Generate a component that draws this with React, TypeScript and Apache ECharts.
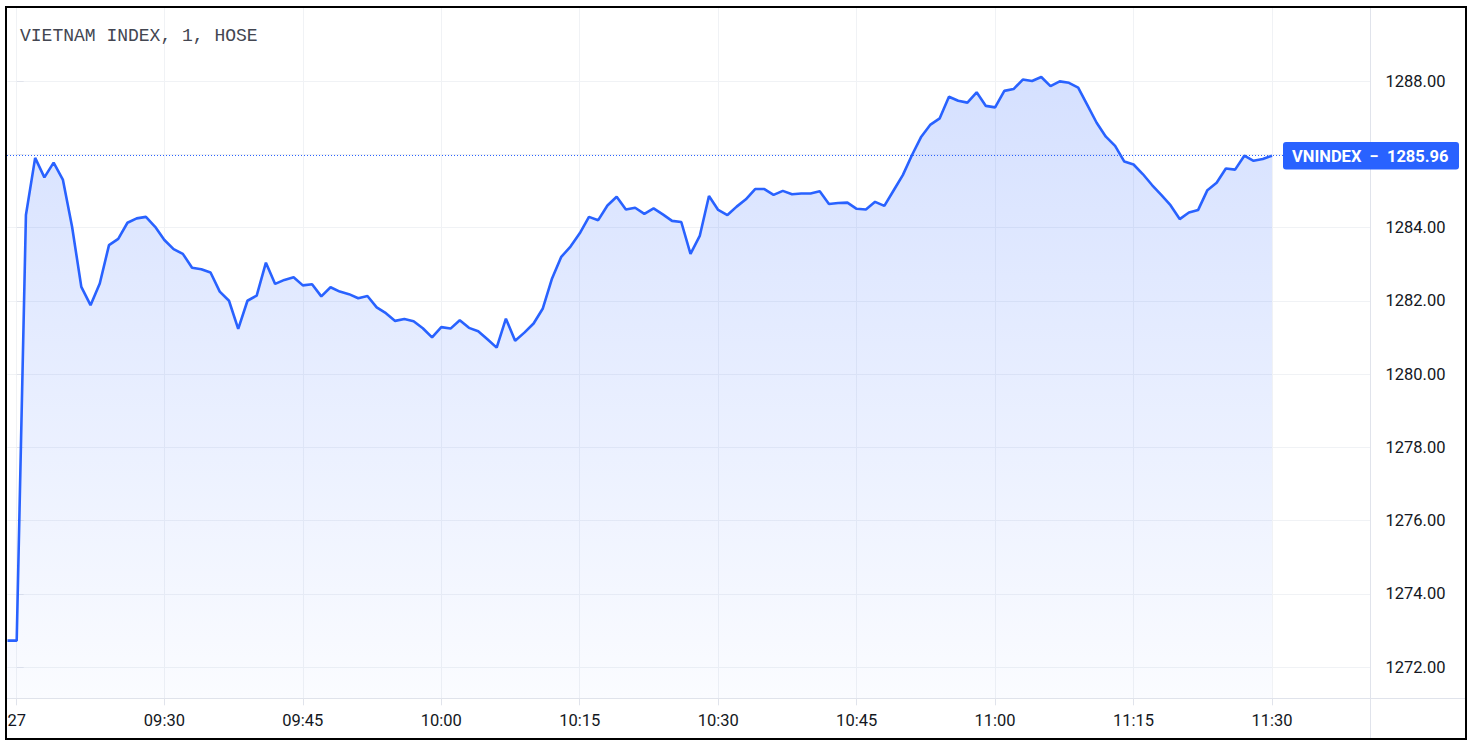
import React, { useEffect, useRef } from "react";
import * as echarts from "echarts";

const chartTitle = "VIETNAM INDEX, 1, HOSE";
const seriesName = "VNINDEX";
const dateLabel = "27";
const prevClose = 1272.72;
const firstBarValue = 1272.72;
const sessionStart = "09:15";

// one value per minute, 09:15 .. 11:30
const values: number[] = [
  1284.34, 1285.9, 1285.37, 1285.77, 1285.31, 1284.02, 1282.38, 1281.88, 1282.47, 1283.52,
  1283.69, 1284.13, 1284.25, 1284.29, 1284.02, 1283.66, 1283.41, 1283.28, 1282.9, 1282.86,
  1282.77, 1282.25, 1282.0, 1281.23, 1282.0, 1282.14, 1283.04, 1282.46, 1282.57, 1282.64,
  1282.42, 1282.45, 1282.12, 1282.37, 1282.25, 1282.18, 1282.07, 1282.13, 1281.82, 1281.66,
  1281.45, 1281.5, 1281.44, 1281.25, 1281.0, 1281.28, 1281.24, 1281.47, 1281.26, 1281.17,
  1280.95, 1280.72, 1281.51, 1280.91, 1281.13, 1281.38, 1281.79, 1282.61, 1283.2, 1283.48,
  1283.84, 1284.29, 1284.2, 1284.6, 1284.84, 1284.49, 1284.54, 1284.37, 1284.52, 1284.36,
  1284.18, 1284.15, 1283.28, 1283.77, 1284.86, 1284.48, 1284.34, 1284.57, 1284.77, 1285.05,
  1285.05, 1284.89, 1285.0, 1284.91, 1284.93, 1284.93, 1284.99, 1284.64, 1284.67, 1284.68,
  1284.51, 1284.49, 1284.7, 1284.59, 1285.01, 1285.43, 1285.98, 1286.48, 1286.81, 1286.98,
  1287.57, 1287.46, 1287.41, 1287.69, 1287.32, 1287.28, 1287.73, 1287.78, 1288.04, 1288.0,
  1288.11, 1287.86, 1287.99, 1287.95, 1287.82, 1287.34, 1286.86, 1286.48, 1286.23, 1285.8,
  1285.72, 1285.46, 1285.16, 1284.89, 1284.61, 1284.23, 1284.41, 1284.48, 1285.02, 1285.22,
  1285.61, 1285.58, 1285.96, 1285.82, 1285.87, 1285.96,
];

const xTickTimes = ["09:30", "09:45", "10:00", "10:15", "10:30", "10:45", "11:00", "11:15", "11:30"];
const yTicks = [1272, 1274, 1276, 1278, 1280, 1282, 1284, 1286, 1288];

const toMin = (t: string) => {
  const [h, m] = t.split(":").map(Number);
  return h * 60 + m;
};
const fmtTime = (m: number) =>
  `${String(Math.floor(m / 60)).padStart(2, "0")}:${String(m % 60).padStart(2, "0")}`;
const times = values.map((_, i) => fmtTime(toMin(sessionStart) + i));

export default function App() {
  const ref = useRef<HTMLDivElement>(null);
  useEffect(() => {
    if (!ref.current) return;
    const chart = echarts.init(ref.current, undefined, { renderer: "svg" });

    // bar index: -1 = previous close, 0 = first bar of the day (date label), 1.. = minutes
    const data: [number, number][] = [
      [-1, prevClose],
      [0, firstBarValue],
      ...values.map((v, i) => [i + 1, v] as [number, number]),
    ];
    const xTickPos = [0, ...xTickTimes.map((t) => times.indexOf(t) + 1)];
    const last = values[values.length - 1];
    // the price badge covers the scale label next to the last value
    const yLabelValues = yTicks.filter((v) => Math.abs(v - last) > 0.4);

    const font = "Roboto";
    const gridColor = "#f0f2f5";
    const axisColor = "#e0e3eb";
    const textColor = "#131722";

    chart.setOption({
      animation: false,
      backgroundColor: "#ffffff",
      title: {
        text: chartTitle,
        left: 20,
        top: 27,
        padding: 0,
        textStyle: {
          fontFamily: "Liberation Mono",
          fontSize: 18,
          fontWeight: "normal",
          color: "#434651",
        },
      },
      grid: { left: 7.47, right: 102.5, top: 7.75, bottom: 48.7, containLabel: false },
      xAxis: {
        type: "value",
        min: -1,
        max: 146.67,
        axisLine: { show: false },
        axisTick: {
          show: true,
          length: 7,
          customValues: xTickPos,
          lineStyle: { color: axisColor },
        },
        axisLabel: {
          customValues: xTickPos,
          formatter: (v: number) => (v === 0 ? dateLabel : times[v - 1]),
          color: textColor,
          fontFamily: font,
          fontSize: 16.5,
          margin: 14,
        },
        splitLine: { show: true, lineStyle: { color: gridColor, width: 1 } },
      },
      yAxis: {
        type: "value",
        position: "right",
        min: 1272 - 31.3 / 36.64,
        max: 1290,
        axisLine: { show: false },
        axisTick: {
          show: true,
          length: 7,
          customValues: yTicks,
          lineStyle: { color: axisColor },
        },
        axisLabel: {
          customValues: yLabelValues,
          formatter: (v: number) => v.toFixed(2),
          color: textColor,
          fontFamily: font,
          fontSize: 16.5,
          margin: 15,
        },
        splitLine: { show: true, lineStyle: { color: gridColor, width: 1 } },
      },
      series: [
        {
          name: seriesName,
          type: "line",
          data,
          symbol: "none",
          showSymbol: false,
          clip: true,
          lineStyle: { color: "#2962ff", width: 2.6 },
          areaStyle: {
            origin: "start",
            color: new echarts.graphic.LinearGradient(0, 0, 0, 1, [
              { offset: 0, color: "rgba(41,98,255,0.28)" },
              { offset: 1, color: "rgba(41,98,255,0.03)" },
            ]),
          },
        },
      ],
    });

    const py = chart.convertToPixel({ yAxisIndex: 0 }, last) as number;
    const lineY = Math.round(py) - 0.5;
    chart.setOption({
      graphic: [
        {
          type: "line",
          shape: { x1: 1370.5, y1: 7, x2: 1370.5, y2: 740 },
          style: { stroke: axisColor, lineWidth: 1 },
          z: 50,
        },
        {
          type: "line",
          shape: { x1: 7, y1: 698.5, x2: 1466, y2: 698.5 },
          style: { stroke: axisColor, lineWidth: 1 },
          z: 50,
        },
        {
          type: "line",
          shape: { x1: 7, y1: lineY, x2: 1283, y2: lineY },
          style: { stroke: "#2962ff", lineWidth: 1, lineDash: [1, 2] },
          z: 60,
        },
        {
          type: "rect",
          shape: { x: 1283, y: py - 13.7, width: 176, height: 27.4, r: 3 },
          style: { fill: "#2962ff" },
          z: 100,
        },
        {
          type: "text",
          x: 1292,
          y: py + 0.5,
          style: {
            text: `${seriesName}  \u2212  ${last.toFixed(2)}`,
            fill: "#ffffff",
            fontFamily: font,
            fontSize: 16.5,
            fontWeight: "bold",
            align: "left",
            textAlign: "left",
            verticalAlign: "middle",
            textVerticalAlign: "middle",
          },
          z: 101,
        },
        {
          type: "rect",
          shape: { x: 6, y: 7, width: 1460, height: 732 },
          style: { fill: "none", stroke: "#000000", lineWidth: 2 },
          z: 200,
        },
      ],
    });

    return () => chart.dispose();
  }, []);
  return (
    <div
      ref={ref}
      style={{ position: "fixed", left: 0, top: 0, width: "1473px", height: "747px", background: "#fff" }}
    />
  );
}
